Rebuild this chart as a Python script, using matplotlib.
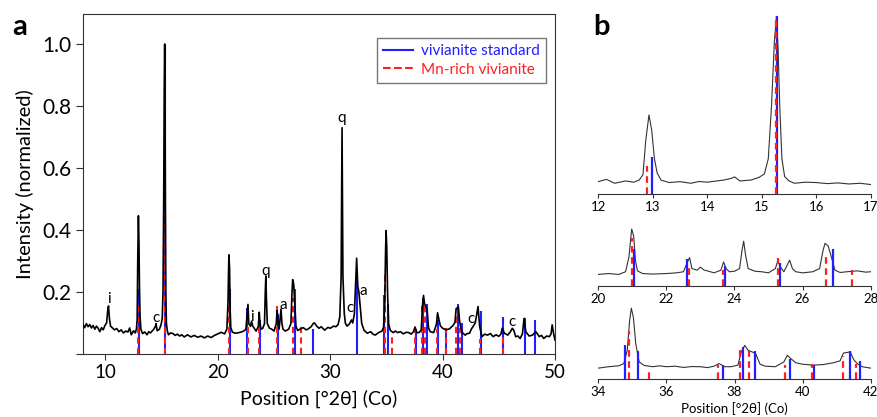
import matplotlib
matplotlib.use('Agg')
import matplotlib.pyplot as plt

plt.rcParams['font.family'] = ['Lato', 'DejaVu Sans']

# measured pattern (Co radiation), normalized intensity
pos_2theta = [8.0, 8.15, 8.3, 8.45, 8.6, 8.75, 8.9, 9.05, 9.2, 9.35, 9.5, 9.65, 9.8, 9.95,
              10.1, 10.2, 10.27, 10.35, 10.45, 10.6, 10.8, 11.0, 11.2, 11.4, 11.6, 11.8,
              12.0, 12.15, 12.3, 12.5, 12.65, 12.75, 12.82, 12.87, 12.93, 12.98, 13.03, 13.08,
              13.15, 13.3, 13.5, 13.7, 13.85, 14.0, 14.15, 14.3, 14.45, 14.5, 14.6, 14.8,
              14.95, 15.05, 15.12, 15.18, 15.23, 15.27, 15.30, 15.33, 15.37, 15.42, 15.5,
              15.6, 15.8, 16.0, 16.2, 16.4, 16.6, 16.8, 17.0, 17.3, 17.6, 17.9, 18.2, 18.5,
              18.8, 19.1, 19.4, 19.7, 20.0, 20.3, 20.6, 20.8, 20.9, 20.98, 21.04, 21.09,
              21.15, 21.3, 21.6, 22.0, 22.3, 22.5, 22.6, 22.68, 22.75, 22.9, 23.0, 23.1,
              23.2, 23.4, 23.6, 23.68, 23.75, 23.85, 24.0, 24.15, 24.22, 24.27, 24.32, 24.4,
              24.6, 24.8, 25.0, 25.2, 25.27, 25.35, 25.45, 25.57, 25.62, 25.7, 25.8, 26.0,
              26.3, 26.5, 26.6, 26.66, 26.75, 26.85, 26.95, 27.1, 27.3, 27.6, 27.85, 28.0,
              28.3, 28.5, 28.6, 28.8, 29.0, 29.2, 29.5, 29.8, 30.0, 30.3, 30.5, 30.7, 30.85,
              30.97, 31.05, 31.13, 31.25, 31.35, 31.5, 31.7, 31.9, 32.0, 32.15, 32.27, 32.35,
              32.45, 32.55, 32.65, 32.8, 33.0, 33.3, 33.6, 33.8, 34.0, 34.3, 34.6, 34.75,
              34.85, 34.92, 34.97, 35.03, 35.1, 35.2, 35.35, 35.6, 35.8, 36.0, 36.25, 36.5,
              36.75, 37.0, 37.2, 37.4, 37.55, 37.7, 37.9, 38.1, 38.2, 38.3, 38.4, 38.52,
              38.62, 38.75, 38.9, 39.2, 39.45, 39.55, 39.65, 39.8, 40.0, 40.3, 40.6, 40.9,
              41.1, 41.2, 41.4, 41.5, 41.6, 41.75, 42.0, 42.2, 42.4, 42.55, 42.7, 42.9, 43.0,
              43.15, 43.3, 43.5, 43.75, 44.0, 44.25, 44.5, 44.75, 45.0, 45.2, 45.3, 45.5,
              45.8, 46.0, 46.2, 46.35, 46.5, 46.7, 46.9, 47.1, 47.25, 47.4, 47.7, 48.0, 48.3,
              48.6, 48.8, 49.0, 49.25, 49.5, 49.65, 49.75, 49.9, 50.0]
intensity = [0.094, 0.085, 0.098, 0.088, 0.095, 0.084, 0.092, 0.080, 0.090, 0.083, 0.072, 0.085, 0.078, 0.092,
             0.100, 0.140, 0.155, 0.115, 0.090, 0.085, 0.078, 0.082, 0.072, 0.078, 0.068, 0.074,
             0.071, 0.084, 0.062, 0.075, 0.068, 0.080, 0.110, 0.300, 0.446, 0.360, 0.200, 0.120,
             0.080, 0.066, 0.071, 0.062, 0.072, 0.068, 0.074, 0.080, 0.090, 0.098, 0.075, 0.080,
             0.095, 0.115, 0.200, 0.500, 0.850, 1.000, 0.820, 0.500, 0.200, 0.100, 0.075,
             0.062, 0.068, 0.066, 0.060, 0.064, 0.058, 0.062, 0.055, 0.062, 0.055, 0.060, 0.054, 0.058,
             0.052, 0.058, 0.053, 0.060, 0.065, 0.070, 0.065, 0.080, 0.163, 0.320, 0.280, 0.144,
             0.085, 0.070, 0.067, 0.070, 0.074, 0.080, 0.126, 0.160, 0.098, 0.089, 0.106, 0.090,
             0.085, 0.074, 0.089, 0.135, 0.098, 0.080, 0.083, 0.098, 0.200, 0.252, 0.180, 0.098,
             0.083, 0.080, 0.074, 0.098, 0.140, 0.107, 0.080, 0.126, 0.145, 0.098, 0.080, 0.074,
             0.080, 0.098, 0.200, 0.240, 0.225, 0.160, 0.089, 0.076, 0.080, 0.085, 0.078, 0.080,
             0.088, 0.099, 0.100, 0.090, 0.083, 0.088, 0.077, 0.086, 0.083, 0.090, 0.088, 0.095, 0.120,
             0.250, 0.730, 0.250, 0.130, 0.099, 0.090, 0.097, 0.110, 0.100, 0.130, 0.240, 0.309,
             0.220, 0.200, 0.160, 0.099, 0.077, 0.067, 0.072, 0.064, 0.061, 0.069, 0.074, 0.087,
             0.161, 0.328, 0.398, 0.346, 0.198, 0.096, 0.076, 0.069, 0.074, 0.069, 0.072, 0.065,
             0.070, 0.069, 0.064, 0.072, 0.087, 0.069, 0.069, 0.078, 0.152, 0.189, 0.161, 0.152,
             0.143, 0.083, 0.072, 0.069, 0.096, 0.133, 0.115, 0.091, 0.083, 0.078, 0.081, 0.091,
             0.102, 0.146, 0.152, 0.109, 0.087, 0.069, 0.061, 0.066, 0.067, 0.080, 0.088, 0.100, 0.120,
             0.153, 0.088, 0.056, 0.064, 0.061, 0.066, 0.056, 0.062, 0.057, 0.065, 0.083, 0.067,
             0.061, 0.070, 0.083, 0.075, 0.056, 0.058, 0.050, 0.065, 0.115, 0.072, 0.058, 0.061, 0.072,
             0.056, 0.060, 0.050, 0.058, 0.056, 0.065, 0.094, 0.061, 0.045]

# reference sticks
std_pos = [12.98, 15.28, 21.06, 22.61, 23.73, 25.33, 26.88, 28.45, 32.38, 34.79, 35.17,
           37.66, 38.24, 38.61, 39.63, 40.34, 41.38, 41.70, 43.42, 45.40, 47.30, 48.22]
std_h = [0.21, 1.0, 0.21, 0.15, 0.11, 0.13, 0.21, 0.08, 0.235, 0.19, 0.16,
         0.08, 0.18, 0.16, 0.11, 0.076, 0.16, 0.10, 0.14, 0.12, 0.117, 0.11]
mn_pos = [12.90, 15.26, 20.98, 22.67, 23.67, 25.27, 26.69, 27.44, 34.90, 35.50, 37.53,
          38.15, 38.44, 39.48, 40.27, 41.18, 41.56, 43.35, 45.33]
mn_h = [0.157, 1.0, 0.27, 0.12, 0.09, 0.16, 0.18, 0.09, 0.27, 0.06, 0.08,
        0.165, 0.16, 0.08, 0.085, 0.13, 0.085, 0.05, 0.065]

# phase labels on panel a
lab_text = ['i', 'c', 'i', 'q', 'a', 'q', 'c', 'a', 'c', 'c']
lab_x = [10.3, 14.5, 23.05, 24.27, 25.78, 31.04, 31.78, 32.9, 42.55, 46.2]
lab_y = [0.177, 0.116, 0.12, 0.268, 0.158, 0.76, 0.147, 0.204, 0.112, 0.104]

BLUE = '#1f1fff'
RED = '#ff1f1f'
DASH = (0, (3, 2))

fig = plt.figure(figsize=(8.77, 4.17), dpi=100)

# --- panel a ---
ax = fig.add_axes([83/877, 63/417, 472/877, 340/417])
ax.vlines(std_pos, 0, std_h, colors=BLUE, lw=1.5, zorder=2)
ax.vlines(mn_pos, 0, mn_h, colors=RED, lw=1.5, linestyles=DASH, zorder=2.5)
ax.plot(pos_2theta, intensity, color='black', lw=1.2, zorder=3)
ax.plot([], [], color=BLUE, lw=1.5, label='vivianite standard')
ax.plot([], [], color=RED, lw=1.5, ls='--', label='Mn-rich vivianite')
for t, x, y in zip(lab_text, lab_x, lab_y):
    ax.text(x, y, t, ha='center', va='center', fontsize=11)

ax.set_xlim(8, 50)
ax.set_ylim(0, 1.097)
ax.set_xticks([10, 20, 30, 40, 50])
ax.set_yticks([0, 0.2, 0.4, 0.6, 0.8, 1.0])
ax.set_yticklabels(['', '0.2', '0.4', '0.6', '0.8', '1.0'])
ax.tick_params(axis='y', labelsize=15, direction='out', length=5, color='#333333')
ax.tick_params(axis='x', labelsize=13.5, direction='out', length=4, color='#333333')
for s in ax.spines.values():
    s.set_color('#333333')
ax.set_xlabel('Position [°2θ] (Co)', fontsize=14, labelpad=6)
ax.set_ylabel('Intensity (normalized)', fontsize=14.5, labelpad=6)
leg = ax.legend(loc='upper right', bbox_to_anchor=(0.981, 0.929), borderaxespad=0,
                fontsize=11, handlelength=2.0, fancybox=False, framealpha=1,
                edgecolor='#777777', labelspacing=0.3, handletextpad=0.5)
for txt, c in zip(leg.get_texts(), [BLUE, RED]):
    txt.set_color(c)

fig.text(0.023, 0.935, 'a', fontsize=21, fontweight='bold', ha='center', va='center')
fig.text(0.686, 0.935, 'b', fontsize=21, fontweight='bold', ha='center', va='center')

# --- panel b: three zoomed windows ---
windows = [(12, 17, 1), (20, 28, 2), (34, 42, 2)]
axis_px = [194.3, 286, 379]
top_val = [1.05, 0.40, 0.45]
for (x0, x1, step), ypx, ytop in zip(windows, axis_px, top_val):
    h = ytop * 178
    bx = fig.add_axes([598.3/877, (417 - ypx)/417, 272.4/877, h/417])
    bx.plot(pos_2theta, intensity, color='#333333', lw=0.8, zorder=2)
    bx.vlines(std_pos, 0, std_h, colors=BLUE, lw=1.6, zorder=3)
    bx.vlines(mn_pos, 0, mn_h, colors=RED, lw=1.6, linestyles=DASH, zorder=3.5)
    bx.set_xlim(x0, x1)
    bx.set_ylim(0, ytop)
    bx.set_xticks(list(range(x0, x1 + 1, step)))
    bx.set_yticks([])
    for side in ['left', 'right', 'top']:
        bx.spines[side].set_visible(False)
    bx.spines['bottom'].set_color('#333333')
    bx.tick_params(axis='x', labelsize=9.5, direction='out', length=3, pad=2, color='#333333')
    bx.patch.set_alpha(0)
    if x0 == 34:
        bx.set_xlabel('Position [°2θ] (Co)', fontsize=9.5, labelpad=3)

plt.savefig('out.png', dpi=100, facecolor='white')
